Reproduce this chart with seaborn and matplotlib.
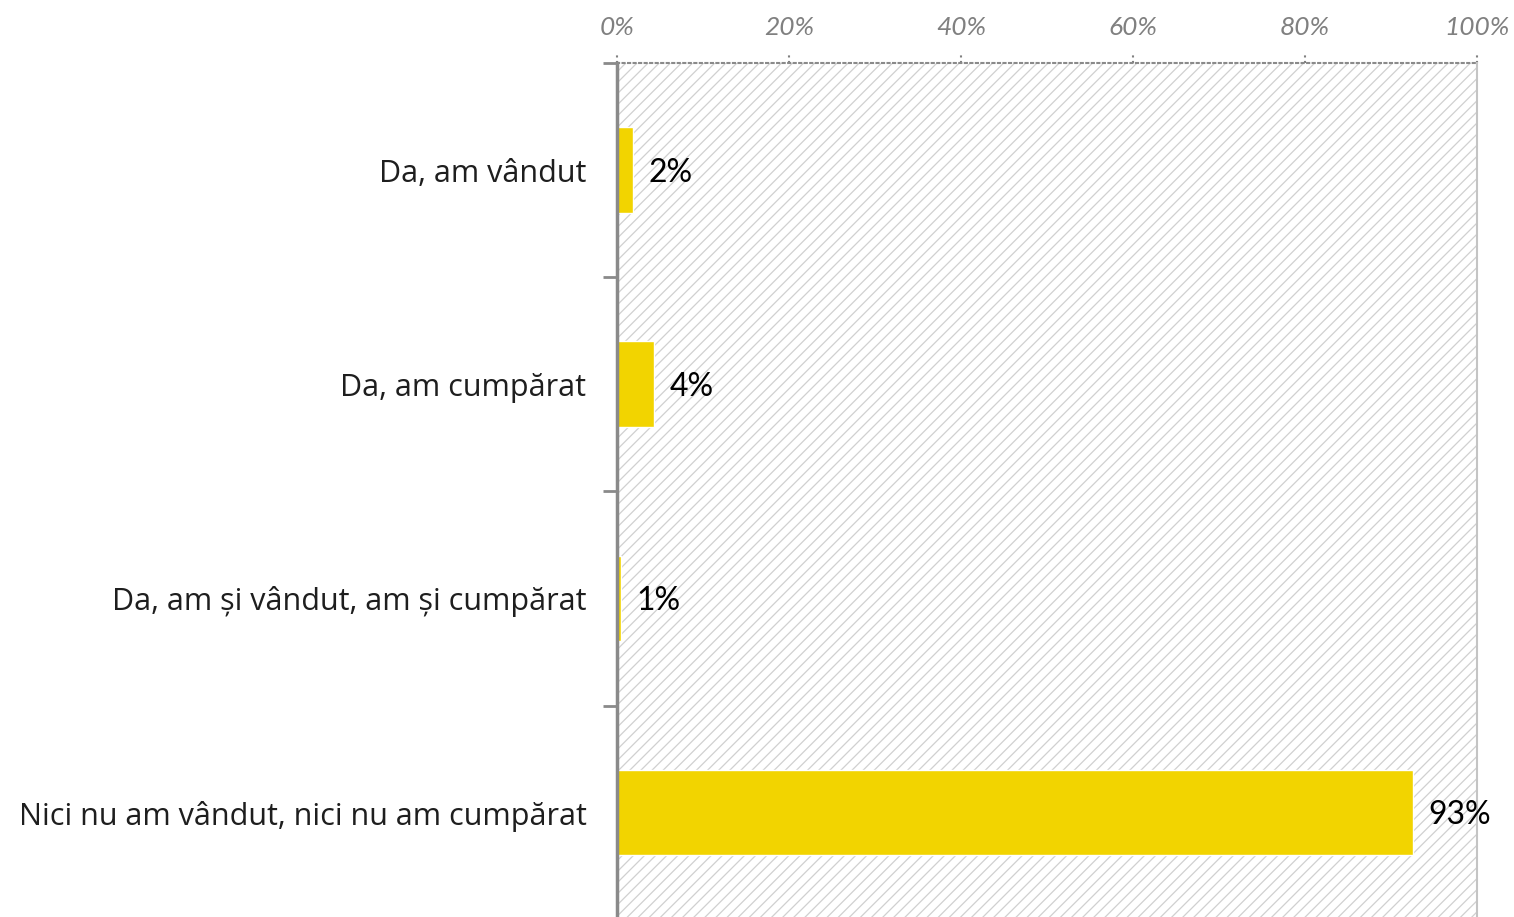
import matplotlib
matplotlib.use("Agg")
import matplotlib.pyplot as plt
import matplotlib.transforms as mtransforms
from matplotlib.ticker import FixedLocator
import pandas as pd
import seaborn as sns

categories = [
    "Da, am vândut",
    "Da, am cumpărat",
    "Da, am și vândut, am și cumpărat",
    "Nici nu am vândut, nici nu am cumpărat",
]
values = [1.9, 4.3, 0.5, 92.6]
value_labels = ["2%", "4%", "1%", "93%"]
x_ticks = [0, 20, 40, 60, 80, 100]

C = {
    "bar":    "#F2D400",
    "hatch":  "#d0d0d0",
    "axis":   "#8a8a8a",
    "right":  "#c4c4c4",
    "tick":   "#808080",
    "text":   "#1e1e1e",
}

sns.set_style("white")
plt.rcParams["font.family"] = ["Lato", "DejaVu Sans"]
plt.rcParams["hatch.linewidth"] = 0.9

df = pd.DataFrame({"cat": categories, "val": values})

fig = plt.figure(figsize=(15.14, 9.17), dpi=100)
ax = fig.add_axes([0.4075, -0.003, 0.568, 0.9343])

# hatched plot background
ax.patch.set_facecolor("white")
ax.patch.set_edgecolor(C["hatch"])
ax.patch.set_hatch("///")

sns.barplot(data=df, x="val", y="cat", orient="h", color=C["bar"],
            width=0.4, saturation=1, ax=ax, zorder=2)

ax.set_xlim(0, 100)
ax.set_ylim(len(categories) - 0.5, -0.5)
ax.set_xlabel(""); ax.set_ylabel("")

# x axis on top, italic grey percentages
ax.xaxis.tick_top()
ax.set_xticks(x_ticks)
ax.set_xticklabels([f"{t}%" for t in x_ticks], fontsize=19, style="italic", color=C["tick"])
ax.tick_params(axis="x", length=0, pad=17)
trans = mtransforms.blended_transform_factory(ax.transData, ax.transAxes)
ax.vlines(x_ticks, 1.0, 1.013, transform=trans, colors=C["tick"], linestyles=":",
          linewidth=1.5, clip_on=False)

# categories on the left, ticks at band edges
ax.tick_params(axis="y", which="major", length=0, pad=22, labelsize=22, labelcolor=C["text"])
for t in ax.get_yticklabels():
    t.set_fontfamily(["Open Sans", "DejaVu Sans"])
ax.yaxis.set_minor_locator(FixedLocator([i - 0.5 for i in range(len(categories) + 1)]))
ax.tick_params(axis="y", which="minor", length=10, width=2, color=C["axis"], left=True)

ax.spines["bottom"].set_visible(False)
ax.spines["left"].set_color(C["axis"]); ax.spines["left"].set_linewidth(2.5)
ax.spines["top"].set_color(C["axis"]); ax.spines["top"].set_linestyle(":"); ax.spines["top"].set_linewidth(1.5)
ax.spines["right"].set_color(C["right"]); ax.spines["right"].set_linewidth(1.5)

for i, (v, lab) in enumerate(zip(values, value_labels)):
    ax.annotate(lab, (v, i), xytext=(11, -2), textcoords="offset points",
                ha="left", va="center", fontsize=23, color="black", zorder=3)

fig.savefig("out.png", dpi=100, facecolor="white")
